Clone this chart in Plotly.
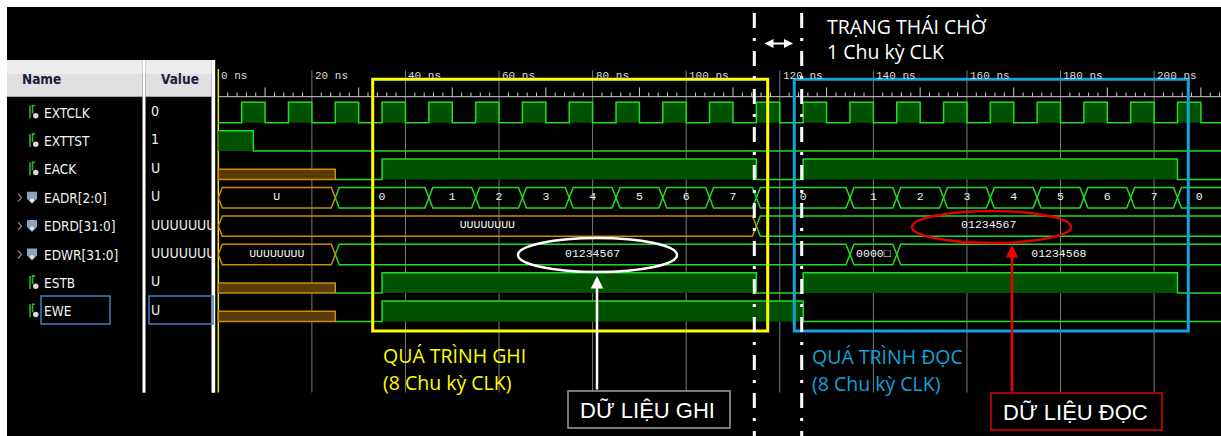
import plotly.graph_objects as go

# ---------------- data ----------------
signal_names = ["EXTCLK", "EXTTST", "EACK", "EADR[2:0]", "EDRD[31:0]", "EDWR[31:0]", "ESTB", "EWE"]
signal_values = ["0", "1", "U", "U", "UUUUUUUU", "UUUUUUUU", "U", "U"]
signal_is_bus = [False, False, False, True, True, True, False, False]

time_ticks = [0, 20, 40, 60, 80, 100, 120, 140, 160, 180, 200]
time_tick_labels = ["0 ns", "20 ns", "40 ns", "60 ns", "80 ns", "100 ns", "120 ns",
                    "140 ns", "160 ns", "180 ns", "200 ns"]

extclk_times = [0, 5, 10, 15, 20, 25, 30, 35, 40, 45, 50, 55, 60, 65, 70, 75, 80, 85, 90, 95, 100,
                105, 110, 115, 120, 125, 130, 135, 140, 145, 150, 155, 160, 165, 170, 175, 180,
                185, 190, 195, 200, 205, 210]
extclk_levels = ["0", "1", "0", "1", "0", "1", "0", "1", "0", "1", "0", "1", "0", "1", "0", "1",
                 "0", "1", "0", "1", "0", "1", "0", "1", "0", "1", "0", "1", "0", "1", "0", "1",
                 "0", "1", "0", "1", "0", "1", "0", "1", "0", "1", "0"]
exttst_times = [0, 7.5]
exttst_levels = ["1", "0"]
eack_times = [0, 25, 35, 115, 125, 205]
eack_levels = ["U", "0", "1", "0", "1", "0"]
estb_times = [0, 25, 35, 115, 125, 205]
estb_levels = ["U", "0", "1", "0", "1", "0"]
ewe_times = [0, 25, 35, 125]
ewe_levels = ["U", "0", "1", "0"]

eadr_times = [0, 25, 45, 55, 65, 75, 85, 95, 105, 115, 135, 145, 155, 165, 175, 185, 195, 205]
eadr_values = ["U", "0", "1", "2", "3", "4", "5", "6", "7", "0", "1", "2", "3", "4", "5", "6", "7", "0"]
edrd_times = [0, 115]
edrd_values = ["UUUUUUUU", "01234567"]
edwr_times = [0, 25, 135, 145]
edwr_values = ["UUUUUUUU", "01234567", "0000\u25a1", "01234568"]

binary_rows = {0: (extclk_times, extclk_levels), 1: (exttst_times, exttst_levels),
               2: (eack_times, eack_levels), 6: (estb_times, estb_levels), 7: (ewe_times, ewe_levels)}
bus_rows = {3: (eadr_times, eadr_values), 4: (edrd_times, edrd_values), 5: (edwr_times, edwr_values)}

# ---------------- geometry helpers ----------------
W, H = 1221, 436
X0PX, PXNS = 218.3, 4.679
ROW0, ROWH = 112.5, 28.4
AMP = 0.36
T_END = 240.0
VAL_L, VAL_R = 145.5, 211.5


def tx(px):
    return (px - X0PX) / PXNS


def ry(py):
    return (py - ROW0) / ROWH


XR = [tx(0), tx(W)]
YR = [ry(H), ry(0)]
T_VIEW = XR[1]

GREEN = "#22dc22"
GREEN_FILL = "#005200"
ORANGE = "#cc8a10"
BROWN = "#5a3b06"
MONO = "Liberation Mono, DejaVu Sans Mono, monospace"
NARROW = "Liberation Sans Narrow, DejaVu Sans Condensed, Arial Narrow, sans-serif"
CAL = "Open Sans, Noto Sans, sans-serif"


def segments(times, vals):
    out = []
    for k in range(len(times)):
        t1 = times[k + 1] if k + 1 < len(times) else T_END
        out.append((times[k], t1, vals[k]))
    return out


fig = go.Figure()

# grid lines
gx, gy = [], []
for t in time_ticks[1:]:
    gx += [t, t, None]
    gy += [ry(70.5), ry(392.5), None]
fig.add_trace(go.Scatter(x=gx, y=gy, mode="lines", line=dict(color="#7a7a7a", width=1),
                         hoverinfo="skip"))

# ruler
rx, rry = [0, T_VIEW, None], [ry(96.7), ry(96.7), None]
t = 2
while t < T_VIEW:
    if t % 20 != 0:
        top = 87.5 if t % 10 == 0 else 92.5
        rx += [t, t, None]
        rry += [ry(top), ry(96.7), None]
    t += 2
fig.add_trace(go.Scatter(x=rx, y=rry, mode="lines", line=dict(color="#cfcfcf", width=1),
                         hoverinfo="skip"))

# cursor
fig.add_trace(go.Scatter(x=[0, 0], y=[ry(69), ry(392.5)], mode="lines",
                         line=dict(color="#e6e600", width=1.5), hoverinfo="skip"))

# binary signals
for row, (times, vals) in binary_rows.items():
    hi, lo, mid = row - AMP, row + AMP, row
    S = segments(times, vals)
    lx, ly, fx, fy, ux, uy = [], [], [], [], [], []
    for t0, t1, v in S:
        if v == "U":
            if lx:
                lx.append(None)
                ly.append(None)
            ux += [t0, t1, t1, t0, t0, None]
            uy += [mid, mid, lo, lo, mid, None]
            continue
        yv = hi if v == "1" else lo
        lx += [t0, t1]
        ly += [yv, yv]
        if v == "1":
            fx += [t0, t0, t1, t1, None]
            fy += [lo, hi, hi, lo, None]
    if fx:
        fig.add_trace(go.Scatter(x=fx, y=fy, mode="none", fill="toself", fillcolor=GREEN_FILL,
                                 hoverinfo="skip"))
    if ux:
        fig.add_trace(go.Scatter(x=ux, y=uy, mode="lines", fill="toself", fillcolor=BROWN,
                                 line=dict(color=ORANGE, width=1.5), hoverinfo="skip"))
    fig.add_trace(go.Scatter(x=lx, y=ly, mode="lines", line=dict(color=GREEN, width=1.5),
                             hoverinfo="skip"))

# bus signals
D = 0.85
for row, (times, vals) in bus_rows.items():
    hi, lo, mid = row - AMP, row + AMP, row
    S = segments(times, vals)
    paths = {GREEN: ([], []), ORANGE: ([], [])}
    lab_x, lab_t = [], []
    for t0, t1, v in S:
        col = ORANGE if v.startswith("U") else GREEN
        px_, py_ = paths[col]
        px_ += [t0, t0 + D, t1 - D, t1, t1 - D, t0 + D, t0, None]
        py_ += [mid, hi, hi, mid, lo, lo, mid, None]
        lab_x.append((max(t0, 0) + min(t1, T_VIEW)) / 2)
        lab_t.append(v)
    for col, (px_, py_) in paths.items():
        if px_:
            fig.add_trace(go.Scatter(x=px_, y=py_, mode="lines", line=dict(color=col, width=1.5),
                                     hoverinfo="skip"))
    fig.add_trace(go.Scatter(x=lab_x, y=[row - 0.02] * len(lab_x), mode="text", text=lab_t,
                             textposition="middle center",
                             textfont=dict(family=MONO, size=11.5, color="#f4f4f4"),
                             hoverinfo="skip"))

# value column text, in its own clipped subplot (x in pixel units)
fig.add_trace(go.Scatter(x=[151] * len(signal_values), y=list(range(len(signal_values))),
                         xaxis="x2", yaxis="y2", mode="text", text=signal_values,
                         textposition="middle right", cliponaxis=True,
                         textfont=dict(family=NARROW, size=14, color="#f0f0f0"),
                         hoverinfo="skip"))

# ---------------- shapes ----------------
shapes = []


def rect(x0, y0, x1, y1, layer="above", fill=None, line=None, lw=0):
    d = dict(type="rect", xref="x", yref="y", x0=tx(x0), x1=tx(x1), y0=ry(y0), y1=ry(y1),
             layer=layer, line=dict(width=lw, color=line or "rgba(0,0,0,0)"))
    if fill:
        d["fillcolor"] = fill
    return d


shapes.append(rect(7, 7, W + 2, H + 2, layer="below", fill="#000000"))
shapes.append(rect(7, 60, 142.5, 96.7, layer="below", fill="#e0e0e0"))
shapes.append(rect(7, 60, 142.5, 74, layer="below", fill="#ececec"))
shapes.append(rect(145.5, 60, 211.5, 96.7, fill="#e0e0e0"))
shapes.append(rect(145.5, 60, 211.5, 74, fill="#ececec"))
shapes.append(rect(142.5, 60, 145.5, 392.7, fill="#ffffff"))
shapes.append(rect(211.5, 60, 215.2, 392.7, fill="#ffffff"))

# icons
for row, bus in enumerate(signal_is_bus):
    cy = ROW0 + ROWH * row
    if bus:
        shapes.append(dict(type="path", xref="x", yref="y", layer="above",
                           path="M %f,%f L %f,%f L %f,%f" % (tx(18), ry(cy - 4), tx(21.5), ry(cy),
                                                           tx(18), ry(cy + 4)),
                           line=dict(color="#8a8a8a", width=1.2)))
        shapes.append(dict(type="path", xref="x", yref="y", layer="above",
                           path="M %f,%f L %f,%f L %f,%f L %f,%f L %f,%f Z" % (
                               tx(27), ry(cy - 6), tx(37), ry(cy - 6), tx(37), ry(cy + 1),
                               tx(32), ry(cy + 6), tx(27), ry(cy + 1)),
                           fillcolor="#8aa2ba", line=dict(width=0)))
        shapes.append(dict(type="circle", xref="x", yref="y", layer="above",
                           x0=tx(30), x1=tx(34), y0=ry(cy + 0.5), y1=ry(cy + 4.5),
                           fillcolor="#e6e6e6", line=dict(width=0)))
    else:
        shapes.append(dict(type="path", xref="x", yref="y", layer="above",
                           path="M %f,%f L %f,%f M %f,%f L %f,%f L %f,%f" % (
                               tx(30), ry(cy - 7), tx(30), ry(cy + 6), tx(32.5), ry(cy + 1),
                               tx(32.5), ry(cy - 7), tx(35), ry(cy - 7)),
                           line=dict(color="#2fb02f", width=1.6)))
        shapes.append(dict(type="circle", xref="x", yref="y", layer="above",
                           x0=tx(33), x1=tx(38.5), y0=ry(cy + 0.5), y1=ry(cy + 6),
                           fillcolor="#d8d8d8", line=dict(width=0)))

# selection boxes on EWE
shapes.append(rect(41, 296, 110, 324, line="#3f7fb8", lw=1.5))
shapes.append(rect(149, 296, 213, 324, line="#3f7fb8", lw=1.5))

# yellow / blue phase boxes
shapes.append(rect(372.7, 79.3, 767.7, 331, line="#ffff00", lw=3))
shapes.append(rect(794.3, 79.3, 1188.3, 331, line="#14a2dc", lw=3))

# ellipses
shapes.append(dict(type="circle", xref="x", yref="y", layer="above", x0=tx(518), x1=tx(677),
                   y0=ry(238), y1=ry(272), line=dict(color="#ffffff", width=2.5)))
shapes.append(dict(type="circle", xref="x", yref="y", layer="above", x0=tx(912), x1=tx(1071),
                   y0=ry(211), y1=ry(243), line=dict(color="#e00000", width=2.5)))

# wait-state dashed lines
for xp in (754.3, 801.7):
    shapes.append(dict(type="line", xref="x", yref="y", layer="above", x0=tx(xp), x1=tx(xp),
                       y0=ry(13), y1=ry(H + 5),
                       line=dict(color="#ffffff", width=3, dash="15px,10px,3px,10px")))

# label boxes
shapes.append(rect(568, 391, 730, 428, fill="#000000", line="#a0a0a0", lw=1.5))
shapes.append(rect(991, 393, 1162, 430, fill="#000000", line="#a80000", lw=2))

# ---------------- annotations ----------------
ann = []


def text(x, y, s, size, color, family=CAL, xanchor="left", bold=False):
    return dict(x=tx(x), y=ry(y), xref="x", yref="y", text=s, showarrow=False,
                xanchor=xanchor, yanchor="middle",
                font=dict(family=family, size=size, color=color,
                          weight="bold" if bold else "normal"))


for tv, tl in zip(time_ticks, time_tick_labels):
    ann.append(dict(x=tv + 0.2, y=ry(76), xref="x", yref="y", text=tl, showarrow=False,
                    xanchor="left", yanchor="middle",
                    font=dict(family=MONO, size=11, color="#dcdcdc")))

ann.append(text(19.5, 79, "Name", 13.5, "#1c1c3a", family=NARROW, bold=True))
ann.append(text(158.5, 79, "Value", 13.5, "#1c1c3a", family=NARROW, bold=True))
for row, name in enumerate(signal_names):
    ann.append(dict(x=tx(41.5), y=row, xref="x", yref="y", text=name, showarrow=False,
                    xanchor="left", yanchor="middle",
                    font=dict(family=NARROW, size=13.5, color="#f4f4f4")))

ann.append(text(825, 26, "TRẠNG THÁI CHỜ", 19.5, "#ffffff"))
ann.append(text(825, 51.5, "1 Chu kỳ CLK", 19.5, "#ffffff"))
ann.append(text(381, 355, "QUÁ TRÌNH GHI", 19.5, "#ffff00"))
ann.append(text(381, 382, "(8 Chu kỳ CLK)", 19.5, "#ffff00"))
ann.append(text(810, 356, "QUÁ TRÌNH ĐỌC", 19.5, "#14a2dc"))
ann.append(text(810, 383, "(8 Chu kỳ CLK)", 19.5, "#14a2dc"))
ann.append(text(647, 410, "DỮ LIỆU GHI", 22, "#ffffff", family="Liberation Sans, Arial, sans-serif",
                xanchor="center"))
ann.append(text(1075, 412, "DỮ LIỆU ĐỌC", 22, "#ffffff", family="Liberation Sans, Arial, sans-serif",
                xanchor="center"))

# arrows
ann.append(dict(x=tx(597), y=ry(276), ax=tx(597), ay=ry(391), xref="x", yref="y", axref="x",
                ayref="y", text="", showarrow=True, arrowhead=2, arrowsize=1, arrowwidth=2.5,
                arrowcolor="#ffffff"))
ann.append(dict(x=tx(1012), y=ry(245), ax=tx(1012), ay=ry(393), xref="x", yref="y", axref="x",
                ayref="y", text="", showarrow=True, arrowhead=2, arrowsize=1, arrowwidth=2.5,
                arrowcolor="#ee0000"))
ann.append(dict(x=tx(793), y=ry(43.5), ax=tx(763), ay=ry(43.5), xref="x", yref="y", axref="x",
                ayref="y", text="", showarrow=True, arrowhead=2, startarrowhead=2,
                arrowside="end+start", arrowsize=1, arrowwidth=1.8, arrowcolor="#ffffff"))

fig.update_layout(
    width=W, height=H, margin=dict(l=0, r=0, t=0, b=0, pad=0),
    paper_bgcolor="#ffffff", plot_bgcolor="rgba(0,0,0,0)", showlegend=False,
    xaxis=dict(range=XR, visible=False, fixedrange=True, domain=[0, 1], anchor="y"),
    yaxis=dict(range=YR, visible=False, fixedrange=True, domain=[0, 1], anchor="x"),
    xaxis2=dict(range=[VAL_L, VAL_R], visible=False, fixedrange=True,
                domain=[VAL_L / W, VAL_R / W], anchor="y2"),
    yaxis2=dict(range=YR, visible=False, fixedrange=True, domain=[0, 1], anchor="x2"),
    shapes=shapes, annotations=ann,
)

fig.write_html("out.html", config={"displayModeBar": False, "staticPlot": True},
               post_script="document.body.style.margin='0';")
